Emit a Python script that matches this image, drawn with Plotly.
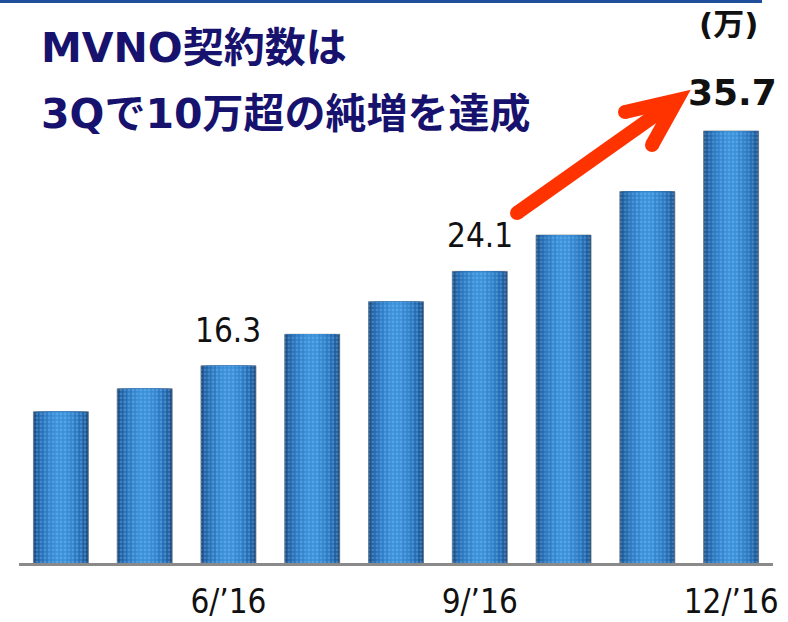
import plotly.graph_objects as go

# ---- data ----
months = ["4/’16", "5/’16", "6/’16", "7/’16", "8/’16", "9/’16", "10/’16", "11/’16", "12/’16"]
contracts = [12.5, 14.4, 16.3, 18.9, 21.6, 24.1, 27.1, 30.7, 35.7]  # 万
tick_months = ["6/’16", "9/’16", "12/’16"]
labeled = {"6/’16": "16.3", "9/’16": "24.1"}
final_label = "35.7"
title_lines = ["MVNO契約数は", "3Qで10万超の純増を達成"]
unit_text = "(万)"

# ---- layout geometry ----
W, H = 788, 622
ML, MR, MT, MB = 19, 15, 40, 59
PW, PH = W - ML - MR, H - MT - MB
YMAX = PH / 12.1


def px(x):
    return (x - ML) / PW


def py(y):
    return (H - MB - y) / PH


REG = "DejaVu Sans Condensed, DejaVu Sans, sans-serif"
BOLD = "DejaVu Sans, Noto Sans CJK JP, sans-serif"

fig = go.Figure()

# cylinder-like bars: overlaid layers from dark edge to light centre
layers = [
    (0.656, "#1b4f86"),
    (0.60, "#1f5e9e"),
    (0.52, "#246cb2"),
    (0.42, "#2b7ac2"),
    (0.30, "#3286cf"),
    (0.16, "#3990d8"),
]
for i, (w, c) in enumerate(layers):
    fig.add_trace(go.Bar(
        x=months, y=contracts, width=w,
        marker=dict(color=c, line=dict(width=1 if i == 0 else 0, color="rgba(90,100,115,0.7)")),
        hoverinfo="skip", showlegend=False,
    ))
# texture overlay
fig.add_trace(go.Bar(
    x=months, y=contracts, width=0.656,
    marker=dict(color="rgba(0,0,0,0)", line=dict(width=0),
                pattern=dict(shape=".", fgcolor="rgba(150,205,255,0.6)",
                             bgcolor="rgba(0,0,0,0)", size=4, solidity=0.4)),
    hoverinfo="skip", showlegend=False,
))

annotations = []
for m, v in zip(months, contracts):
    if m in labeled:
        annotations.append(dict(x=m, y=v, xref="x", yref="y", text=labeled[m],
                                showarrow=False, yanchor="bottom", yshift=14,
                                font=dict(family=REG, size=33, color="#111111")))
annotations.append(dict(x=months[-1], y=contracts[-1], xref="x", yref="y", text="<b>" + final_label + "</b>",
                        showarrow=False, yanchor="bottom", yshift=16, xshift=1,
                        font=dict(family=BOLD, size=36, color="#111111")))
annotations.append(dict(x=px(728), y=py(24), xref="paper", yref="paper", text="<b>" + unit_text + "</b>",
                        showarrow=False, xanchor="center", yanchor="middle",
                        font=dict(family=BOLD, size=31, color="#111111")))
for txt, yc in zip(title_lines, [48, 114]):
    annotations.append(dict(x=px(39), y=py(yc), xref="paper", yref="paper", text="<b>" + txt + "</b>",
                            showarrow=False, xanchor="left", yanchor="middle",
                            font=dict(family=BOLD, size=41, color="#17126e")))

# decorative shapes
RED = "#ff3300"
shapes = [
    dict(type="line", xref="paper", yref="paper", x0=px(0), x1=px(762), y0=py(1.5), y1=py(1.5),
         line=dict(color="#1f4e9a", width=3)),
    dict(type="line", xref="paper", yref="paper", x0=px(517), y0=py(213), x1=px(671), y1=py(104),
         line=dict(color=RED, width=14)),
    dict(type="path", xref="paper", yref="paper",
         path=f"M {px(625)} {py(112)} L {px(677)} {py(100)} L {px(652)} {py(145)}",
         line=dict(color=RED, width=14)),
]
for cx, cy in [(517, 213), (625, 112), (652, 145)]:
    r = 7
    shapes.append(dict(type="circle", xref="paper", yref="paper",
                       x0=px(cx - r), x1=px(cx + r), y0=py(cy + r), y1=py(cy - r),
                       fillcolor=RED, line=dict(width=0)))

fig.update_layout(
    width=W, height=H,
    margin=dict(l=ML, r=MR, t=MT, b=MB, autoexpand=False),
    paper_bgcolor="white", plot_bgcolor="white",
    barmode="overlay", bargap=0.3,
    showlegend=False,
    annotations=annotations,
    shapes=shapes,
    xaxis=dict(type="category", categoryorder="array", categoryarray=months,
               range=[-0.5, len(months) - 0.5],
               tickmode="array", tickvals=tick_months, ticktext=tick_months,
               showline=True, linecolor="#8a8a8a", linewidth=3,
               showgrid=False, zeroline=False, ticks="",
               automargin=False, ticklabelstandoff=7,
               tickfont=dict(family=REG, size=33, color="#111111")),
    yaxis=dict(range=[0, YMAX], visible=False, showgrid=False, zeroline=False, automargin=False),
)

fig.write_html("out.html",
               config={"displayModeBar": False},
               post_script="document.body.style.margin='0';document.body.style.padding='0';"
                           "document.body.style.overflow='hidden';")
